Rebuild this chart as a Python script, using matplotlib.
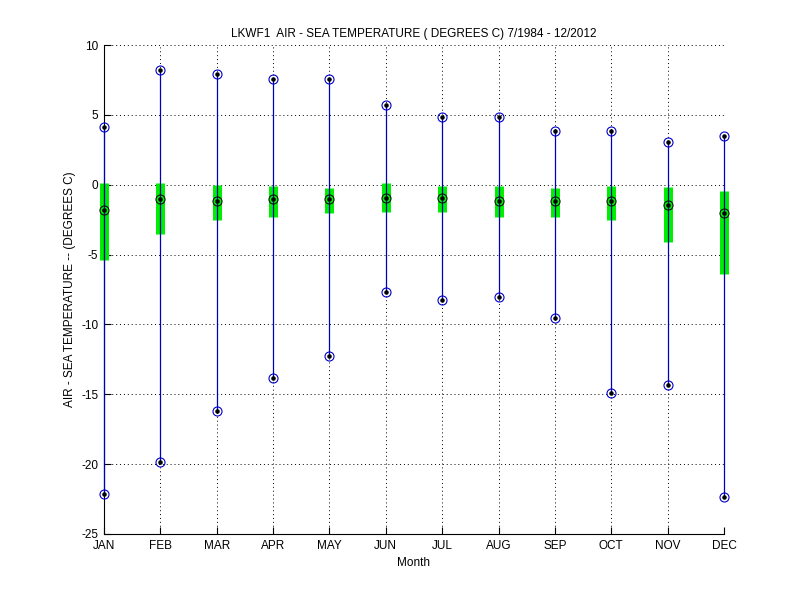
import matplotlib
matplotlib.use("Agg")
import matplotlib.pyplot as plt

months = ["JAN", "FEB", "MAR", "APR", "MAY", "JUN",
          "JUL", "AUG", "SEP", "OCT", "NOV", "DEC"]
t_max = [4.1, 8.2, 7.9, 7.55, 7.55, 5.7, 4.85, 4.85, 3.82, 3.87, 3.05, 3.5]
t_min = [-22.14, -19.86, -16.2, -13.86, -12.23, -7.7,
         -8.25, -8.06, -9.52, -14.88, -14.36, -22.35]
q_hi = [0.1, 0.15, 0.0, -0.12, -0.2, 0.1, -0.12, -0.12, -0.2, -0.12, -0.15, -0.45]
q_lo = [-5.4, -3.55, -2.5, -2.33, -2.05, -1.97, -1.97, -2.33, -2.33, -2.54, -4.1, -6.4]
median = [-1.8, -1.0, -1.2, -1.0, -1.0, -0.93, -0.93, -1.15, -1.15, -1.15, -1.45, -2.0]

plt.rcParams["font.family"] = ["Liberation Sans", "DejaVu Sans"]
plt.rcParams["axes.unicode_minus"] = False

x = list(range(1, 13))
fig = plt.figure(figsize=(8, 6), dpi=100)
ax = fig.add_axes([0.13, 0.11, 0.775, 0.815])

ax.vlines(x, q_lo, q_hi, colors="#00ee00", linewidth=6.5, zorder=2, clip_on=False)
ax.vlines(x, t_min, t_max, colors="#0000bb", linewidth=0.9, zorder=3, clip_on=False)
for vals, edge in [(t_max, "#0000cc"), (t_min, "#0000cc"), (median, "#111111")]:
    ax.plot(x, vals, "o", markerfacecolor="none", markeredgecolor=edge,
            markersize=6.5, markeredgewidth=0.8, zorder=4, clip_on=False)
    ax.plot(x, vals, ".", color="black", markersize=4.5, zorder=5, clip_on=False)

ax.set_xlim(1, 12)
ax.set_ylim(-25, 10)
ax.set_xticks(x)
ax.set_xticklabels(months)
ax.set_yticks(range(-25, 11, 5))
ax.grid(True, linestyle=(0, (1, 3)), color="black", linewidth=0.7)
ax.set_axisbelow(True)
ax.tick_params(direction="in", length=5, labelsize=8.5)
ax.tick_params(axis="x", pad=4)
ax.tick_params(axis="y", pad=4)
for s in ["top", "right"]:
    ax.spines[s].set_visible(False)

ax.set_title("LKWF1  AIR - SEA TEMPERATURE ( DEGREES C) 7/1984 - 12/2012",
             fontsize=8.5, pad=6)
ax.set_xlabel("Month", fontsize=8.5, labelpad=4)
ax.set_ylabel("AIR - SEA TEMPERATURE -- (DEGREES C)", fontsize=8.5, labelpad=4)

fig.savefig("out.png", dpi=100)
